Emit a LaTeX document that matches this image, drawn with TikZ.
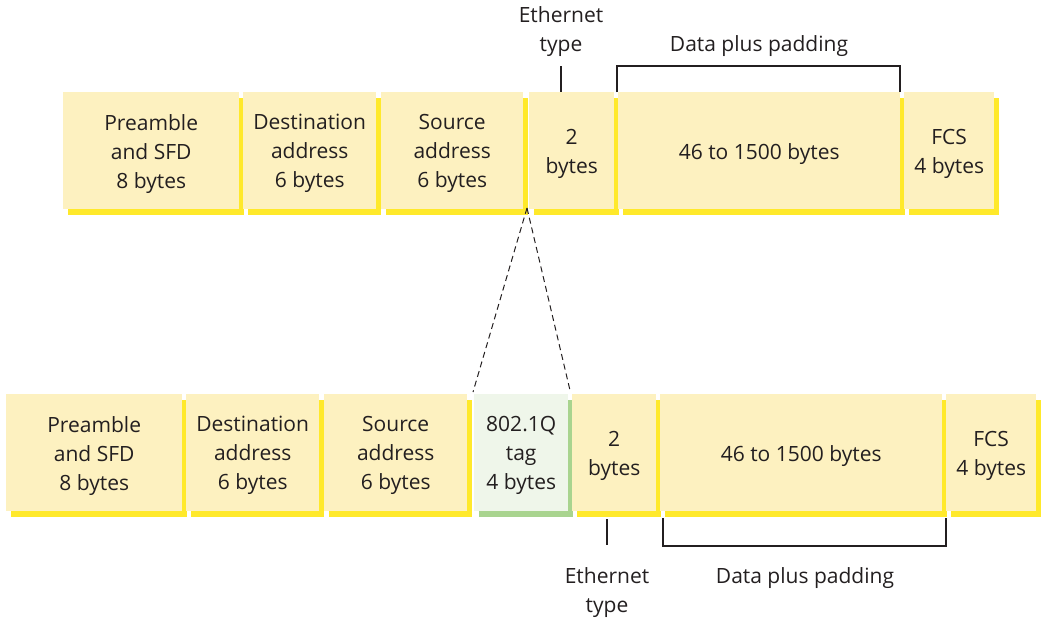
\documentclass[tikz,border=0pt]{standalone}
\usepackage{fontspec}
\setmainfont{Open Sans}
\usetikzlibrary{shadows}
\definecolor{boxfill}{HTML}{FDF1C0}
\definecolor{boxshadow}{HTML}{FFE92B}
\definecolor{tagfill}{HTML}{EFF6EA}
\definecolor{tagshadow}{HTML}{A9D48F}
\definecolor{ink}{HTML}{231F20}
\begin{document}
\begin{tikzpicture}[x=1pt,y=-1pt,
  font=\fontsize{21}{29}\selectfont, text=ink,
  field/.style={rectangle, inner sep=0pt, anchor=north west,
    fill=boxfill, minimum height=117pt,
    drop shadow={shadow xshift=5pt, shadow yshift=-6pt, fill=boxshadow, opacity=1}},
  tagfield/.style={field, fill=tagfill,
    drop shadow={shadow xshift=5pt, shadow yshift=-6pt, fill=tagshadow, opacity=1}},
  txt/.style={label={[align=center, inner sep=0pt, yshift=-3pt]center:#1}},
  bracket/.style={draw=ink, line width=2.2pt},
  lbl/.style={align=center, inner sep=0pt}]
\useasboundingbox (0,0) rectangle (1041,622);
% top row
\node[field, minimum width=176pt, txt={Preamble\\and SFD\\8 bytes}] (t1) at (63,92) {};
\node[field, minimum width=133pt, txt={Destination\\address\\6 bytes}] (t2) at (243,92) {};
\node[field, minimum width=142pt, txt={Source\\address\\6 bytes}] (t3) at (381,92) {};
\node[field, minimum width=85pt, txt={2\\bytes}] (t4) at (529,92) {};
\node[field, minimum width=282pt, txt={46 to 1500 bytes}] (t5) at (618,92) {};
\node[field, minimum width=90pt, txt={FCS\\4 bytes}] (t6) at (904,92) {};
% bottom row
\node[field, minimum width=176pt, txt={Preamble\\and SFD\\8 bytes}] (b1) at (6,394) {};
\node[field, minimum width=133pt, txt={Destination\\address\\6 bytes}] (b2) at (186,394) {};
\node[field, minimum width=143pt, txt={Source\\address\\6 bytes}] (b3) at (324,394) {};
\node[tagfield, minimum width=94pt, txt={802.1Q\\tag\\4 bytes}] (b4) at (474,394) {};
\node[field, minimum width=84pt, txt={2\\bytes}] (b5) at (572,394) {};
\node[field, minimum width=282pt, txt={46 to 1500 bytes}] (b6) at (660,394) {};
\node[field, minimum width=90pt, txt={FCS\\4 bytes}] (b7) at (946,394) {};
% dashed expansion lines
\coordinate (apex) at (527,208);
\draw[ink, line width=1pt, dash pattern=on 6pt off 4pt] (apex) -- ([xshift=-1pt,yshift=2pt]b4.north west);
\draw[ink, line width=1pt, dash pattern=on 6pt off 4pt] (apex) -- ([xshift=2pt,yshift=2pt]b4.north east);
% top labels
\node[lbl] (tet) at (561,32) {Ethernet\\type};
\coordinate (tetb) at (561,66);
\draw[bracket] (tetb) -- (561,92);
\node[lbl] (tdp) at (759,46) {Data plus padding};
\draw[bracket] (617,92) -- (617,66) -- (900,66) -- (900,92);
% bottom labels
\node[lbl] (bet) at (607,593) {Ethernet\\type};
\draw[bracket] (607,519) -- (607,545);
\node[lbl] (bdp) at (805,578) {Data plus padding};
\draw[bracket] (663,518) -- (663,546) -- (946,546) -- (946,518);
\end{tikzpicture}
\end{document}
